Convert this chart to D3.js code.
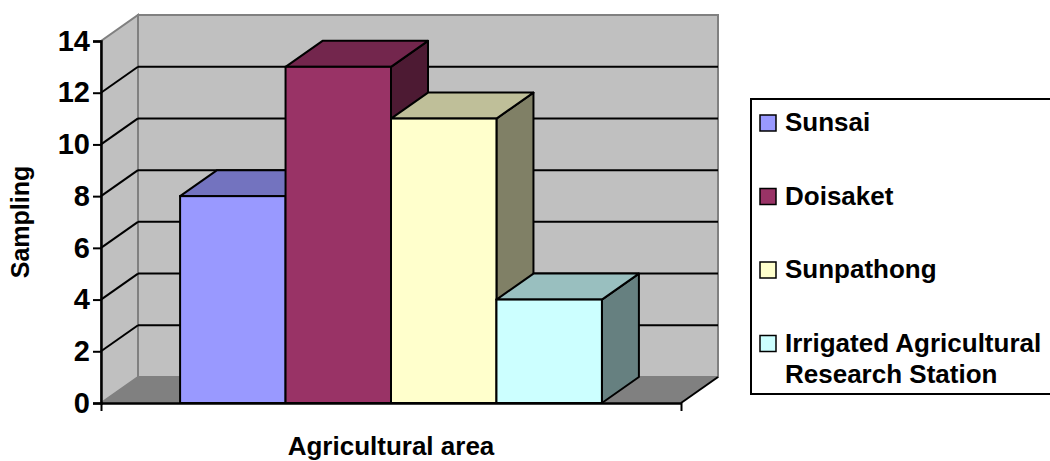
<!DOCTYPE html>
<html>
<head>
<meta charset="utf-8">
<script src="https://cdn.jsdelivr.net/npm/d3@7"></script>
<style>
  body { margin: 0; background: #fff; }
  svg { display: block; font-family: "Liberation Sans", Arial, sans-serif; font-weight: bold; }
</style>
</head>
<body>
<svg id="chart" width="1050" height="461"></svg>
<script>
var areas = ['Sunsai', 'Doisaket', 'Sunpathong', 'Irrigated Agricultural Research Station']
var samples = [8, 13, 11, 4]
var yTicks = [0, 2, 4, 6, 8, 10, 12, 14]
var legendLines = [['Sunsai'], ['Doisaket'], ['Sunpathong'], ['Irrigated Agricultural', 'Research Station']]
var colors = ['#9999ff', '#993366', '#ffffcc', '#ccffff']

var svg = d3.select('#chart')
var dx = 37, dy = -26
var y = d3.scaleLinear().domain([0, 14]).range([403, 41])
var x = d3.scaleBand().domain(areas).range([101, 681]).paddingInner(0).paddingOuter(0.75)
var x0 = 101, x1 = 681, y0 = y(0)

function shade(c, k) {
    var r = d3.rgb(c)
    return d3.rgb(r.r * k, r.g * k, r.b * k).formatHex()
}
function pts(a) { return a.map(p => p.join(',')).join(' ') }

// walls and floor
svg.append('polygon')
    .attr('points', pts([[x0, y0], [x0, y(14)], [x0 + dx, y(14) + dy], [x0 + dx, y0 + dy]]))
    .attr('fill', '#c0c0c0').attr('stroke', '#808080').attr('stroke-width', 2)
svg.append('rect')
    .attr('x', x0 + dx).attr('y', y(14) + dy)
    .attr('width', x1 - x0).attr('height', y0 - y(14))
    .attr('fill', '#c0c0c0').attr('stroke', '#808080').attr('stroke-width', 2)
svg.append('polygon')
    .attr('points', pts([[x0, y0], [x1, y0], [x1 + dx, y0 + dy], [x0 + dx, y0 + dy]]))
    .attr('fill', '#808080')

// gridlines
var grid = yTicks.filter(v => v > 0 && v < 14)
svg.selectAll('line.gback').data(grid).enter().append('line')
    .attr('class', 'gback')
    .attr('x1', x0 + dx).attr('x2', x1 + dx)
    .attr('y1', d => y(d) + dy).attr('y2', d => y(d) + dy)
    .attr('stroke', '#000').attr('stroke-width', 2)
svg.selectAll('line.gside').data(grid).enter().append('line')
    .attr('class', 'gside')
    .attr('x1', x0).attr('x2', x0 + dx)
    .attr('y1', d => y(d)).attr('y2', d => y(d) + dy)
    .attr('stroke', '#000').attr('stroke-width', 2)

// bars
var bars = svg.selectAll('g.bar').data(areas).enter().append('g').attr('class', 'bar')
bars.each(function (d, i) {
    var g = d3.select(this)
    var bx = x(d), w = x.bandwidth(), by = y(samples[i])
    g.append('polygon')
        .attr('points', pts([[bx + w, by], [bx + w + dx, by + dy], [bx + w + dx, y0 + dy], [bx + w, y0]]))
        .attr('fill', shade(colors[i], 0.5)).attr('stroke', '#000').attr('stroke-width', 2).attr('stroke-linejoin', 'round')
    g.append('polygon')
        .attr('points', pts([[bx, by], [bx + w, by], [bx + w + dx, by + dy], [bx + dx, by + dy]]))
        .attr('fill', shade(colors[i], 0.75)).attr('stroke', '#000').attr('stroke-width', 2).attr('stroke-linejoin', 'round')
    g.append('rect')
        .attr('x', bx).attr('y', by).attr('width', w).attr('height', y0 - by)
        .attr('fill', colors[i]).attr('stroke', '#000').attr('stroke-width', 2)
})

// axes
var yAxis = d3.axisLeft(y).tickValues(yTicks).tickSize(8).tickPadding(3)
var yg = svg.append('g').attr('transform', 'translate(' + x0 + ',0)').call(yAxis)
yg.select('.domain').attr('stroke-width', 2.5)
yg.selectAll('.tick line').attr('stroke-width', 2)
yg.selectAll('.tick text').attr('font-size', 29).attr('font-family', '"Liberation Sans", Arial, sans-serif')
    .attr('font-weight', 'bold').attr('fill', '#000')

var xs = d3.scaleLinear().domain([0, 1]).range([x0, x1])
var xg = svg.append('g').attr('transform', 'translate(0,' + y0 + ')')
    .call(d3.axisBottom(xs).tickValues([0, 1]).tickFormat('').tickSize(8).tickSizeOuter(0))
xg.select('.domain').attr('stroke-width', 2.5)
xg.selectAll('.tick line').attr('stroke-width', 2)
svg.append('line')
    .attr('x1', x1).attr('y1', y0).attr('x2', x1 + dx).attr('y2', y0 + dy)
    .attr('stroke', '#000').attr('stroke-width', 2)

// titles
svg.append('text')
    .attr('transform', 'translate(29,' + (y(7)) + ') rotate(-90)')
    .attr('text-anchor', 'middle').attr('font-size', 25)
    .text('Sampling')
svg.append('text')
    .attr('x', (x0 + x1) / 2).attr('y', 455)
    .attr('text-anchor', 'middle').attr('font-size', 26)
    .text('Agricultural area')

// legend
var lg = svg.append('g')
lg.append('rect').attr('x', 751).attr('y', 99).attr('width', 300).attr('height', 295)
    .attr('fill', '#fff').attr('stroke', '#000').attr('stroke-width', 2)
var items = lg.selectAll('g.item').data(legendLines).enter().append('g').attr('class', 'item')
    .attr('transform', (d, i) => 'translate(0,' + (131 + i * 73.5) + ')')
items.append('rect').attr('x', 760).attr('y', -16).attr('width', 16).attr('height', 16)
    .attr('fill', (d, i) => colors[i]).attr('stroke', '#000').attr('stroke-width', 1.5)
items.append('text').attr('x', 785).attr('font-size', 26)
    .selectAll('tspan').data(d => d).enter().append('tspan')
    .attr('x', 785).attr('dy', (d, j) => j ? 31.5 : 0)
    .text(d => d)
</script>
</body>
</html>
